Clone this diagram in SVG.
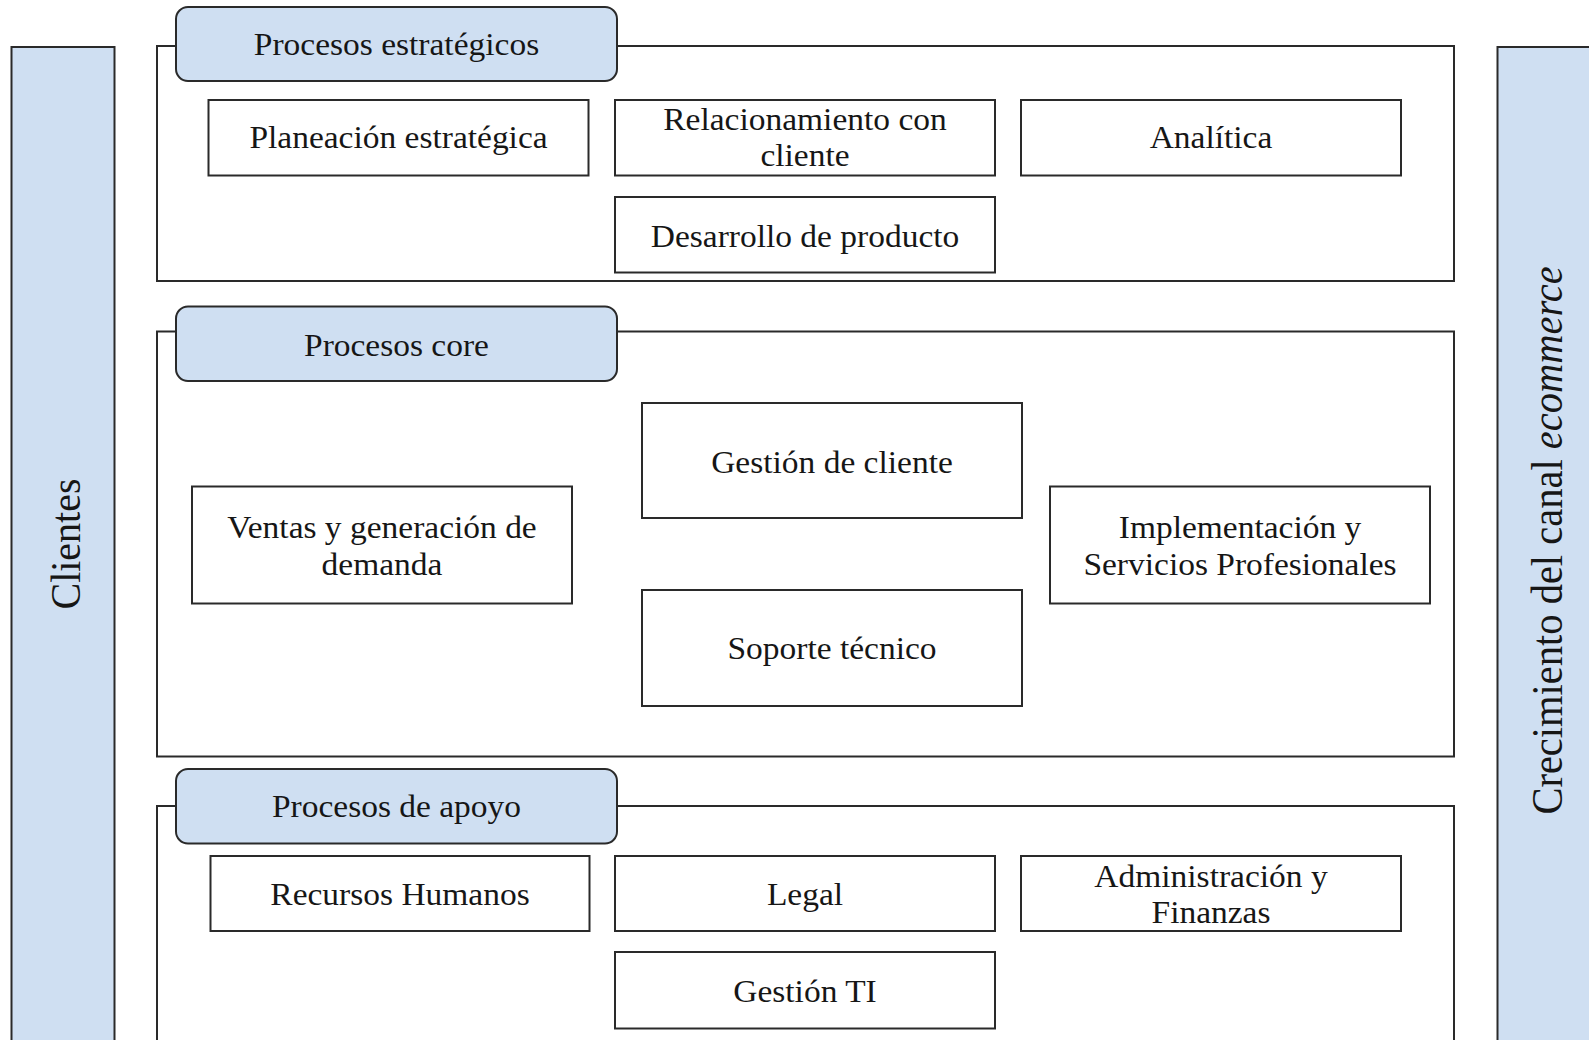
<svg xmlns="http://www.w3.org/2000/svg" width="1589" height="1040" viewBox="0 0 1589 1040">
  <style>
    .frame { fill: #ffffff; stroke: #2a2a2a; stroke-width: 2; }
    .band { fill: #cfdff2; stroke: #2a2a2a; stroke-width: 2; }
    .head { fill: #cfdff2; stroke: #2a2a2a; stroke-width: 2; }
    .box { fill: #ffffff; stroke: #2a2a2a; stroke-width: 2; }
    .t { font-family: "Liberation Serif", "Times New Roman", serif; font-size: 31px; fill: #161616; text-anchor: middle; }
    .vt { font-family: "Liberation Serif", "Times New Roman", serif; font-size: 40px; fill: #161616; text-anchor: middle; }
  </style>

  <rect width="1589" height="1040" fill="#ffffff"/>

  <!-- side bands -->
  <g id="clientes">
    <rect class="band" x="11.5" y="47" width="103" height="1100"/>
    <text class="vt" transform="translate(80 544) rotate(-90) scale(1 1.08)">Clientes</text>
  </g>
  <g id="crecimiento">
    <rect class="band" x="1497.5" y="47" width="200" height="1100"/>
    <text class="vt" style="font-size:40.5px" transform="translate(1562 540.5) rotate(-90) scale(1 1.08)">Crecimiento del canal <tspan font-style="italic">ecommerce</tspan></text>
  </g>

  <!-- strategic processes -->
  <g id="procesos-estrategicos">
    <rect class="frame" x="157" y="46" width="1297" height="235"/>
    <rect class="head" x="176" y="7" width="441" height="74" rx="12"/>
    <text class="t" transform="translate(396.5 55) scale(1.08 1)">Procesos estratégicos</text>
  </g>
  <g id="planeacion">
    <rect class="box" x="208.5" y="100" width="380" height="75.5"/>
    <text class="t" transform="translate(398.5 148) scale(1.08 1)">Planeación estratégica</text>
  </g>
  <g id="relacionamiento">
    <rect class="box" x="615" y="100" width="380" height="75.5"/>
    <text class="t" transform="translate(805 130) scale(1.08 1)">Relacionamiento con</text>
    <text class="t" transform="translate(805 166) scale(1.08 1)">cliente</text>
  </g>
  <g id="analitica">
    <rect class="box" x="1021" y="100" width="380" height="75.5"/>
    <text class="t" transform="translate(1211 148.3) scale(1.08 1)">Analítica</text>
  </g>
  <g id="desarrollo">
    <rect class="box" x="615" y="197" width="380" height="75.5"/>
    <text class="t" transform="translate(805 246.5) scale(1.08 1)">Desarrollo de producto</text>
  </g>

  <!-- core processes -->
  <g id="procesos-core">
    <rect class="frame" x="157" y="331.5" width="1297" height="425"/>
    <rect class="head" x="176" y="306.5" width="441" height="74.5" rx="12"/>
    <text class="t" transform="translate(396.5 356) scale(1.08 1)">Procesos core</text>
  </g>
  <g id="ventas">
    <rect class="box" x="192" y="486.5" width="380" height="117"/>
    <text class="t" transform="translate(382 538.3) scale(1.08 1)">Ventas y generación de</text>
    <text class="t" transform="translate(382 575) scale(1.08 1)">demanda</text>
  </g>
  <g id="gestion-cliente">
    <rect class="box" x="642" y="403" width="380" height="115"/>
    <text class="t" transform="translate(832 473.3) scale(1.08 1)">Gestión de cliente</text>
  </g>
  <g id="soporte">
    <rect class="box" x="642" y="590" width="380" height="116"/>
    <text class="t" transform="translate(832 659.3) scale(1.08 1)">Soporte técnico</text>
  </g>
  <g id="implementacion">
    <rect class="box" x="1050" y="486.5" width="380" height="117"/>
    <text class="t" transform="translate(1240 537.7) scale(1.08 1)">Implementación y</text>
    <text class="t" transform="translate(1240 575) scale(1.08 1)">Servicios Profesionales</text>
  </g>

  <!-- support processes -->
  <g id="procesos-apoyo">
    <rect class="frame" x="157" y="806" width="1297" height="300"/>
    <rect class="head" x="176" y="769" width="441" height="74.5" rx="12"/>
    <text class="t" transform="translate(396.5 817.3) scale(1.08 1)">Procesos de apoyo</text>
  </g>
  <g id="recursos-humanos">
    <rect class="box" x="210.5" y="856" width="379" height="75"/>
    <text class="t" transform="translate(400 905) scale(1.08 1)">Recursos Humanos</text>
  </g>
  <g id="legal">
    <rect class="box" x="615" y="856" width="380" height="75"/>
    <text class="t" transform="translate(805 905) scale(1.08 1)">Legal</text>
  </g>
  <g id="administracion">
    <rect class="box" x="1021" y="856" width="380" height="75"/>
    <text class="t" transform="translate(1211 886.7) scale(1.08 1)">Administración y</text>
    <text class="t" transform="translate(1211 923.3) scale(1.08 1)">Finanzas</text>
  </g>
  <g id="gestion-ti">
    <rect class="box" x="615" y="952" width="380" height="76.5"/>
    <text class="t" transform="translate(805 1001.7) scale(1.08 1)">Gestión TI</text>
  </g>

  <!-- no links between the blocks -->
  <g id="connectors"/>
</svg>
